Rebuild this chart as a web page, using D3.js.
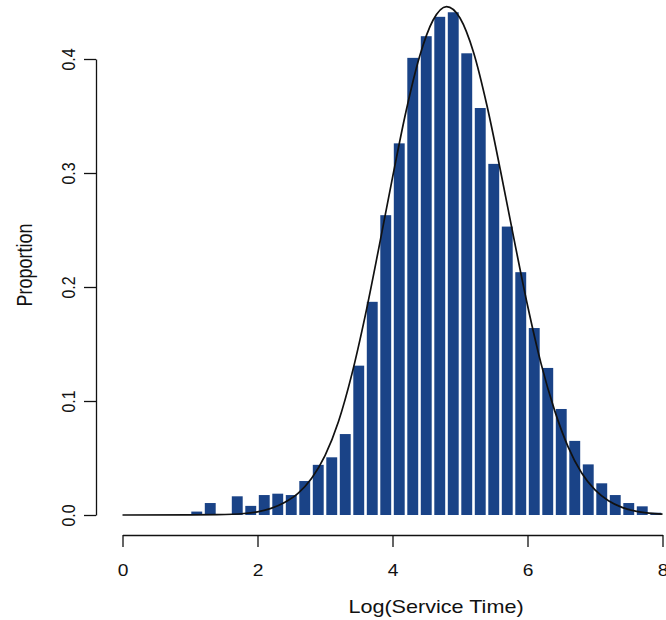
<!DOCTYPE html>
<html>
<head>
<meta charset="utf-8">
<script src="https://cdn.jsdelivr.net/npm/d3@7"></script>
<style>
  html, body { margin: 0; padding: 0; background: #fff; }
  svg { display: block; }
  text { font-family: "Liberation Sans", Arial, Helvetica, sans-serif; fill: #111; }
</style>
</head>
<body>
<svg id="chart" width="666" height="620"></svg>
<script>
// ---- data ----
const binEdges = [1.0,1.2,1.4,1.6,1.8,2.0,2.2,2.4,2.6,2.8,3.0,3.2,3.4,3.6,3.8,4.0,4.2,4.4,4.6,4.8,
                  5.0,5.2,5.4,5.6,5.8,6.0,6.2,6.4,6.6,6.8,7.0,7.2,7.4,7.6,7.8,8.0];
const proportions = [0.003,0.0105,0,0.0164,0.008,0.0175,0.0187,0.0175,0.0298,0.044,0.0506,0.071,
                     0.131,0.187,0.263,0.326,0.401,0.420,0.437,0.441,0.405,0.357,0.308,0.253,0.213,
                     0.164,0.129,0.093,0.065,0.0444,0.0278,0.0175,0.0105,0.0076,0.002];
const curveX = [0,1.0,1.4,1.8,2.0,2.2,2.4,2.6,2.8,3.0,3.2,3.4,3.6,3.8,4.0,4.2,4.4,4.6,4.8,
                5.0,5.2,5.4,5.6,5.8,6.0,6.2,6.4,6.6,6.8,7.0,7.2,7.4,7.6,7.8,8.0];
const curveY = [0,0.0001,0.0003,0.0013,0.0028,0.0058,0.011,0.019,0.032,0.052,0.082,0.124,0.176,
                0.235,0.296,0.354,0.402,0.434,0.446,0.436,0.406,0.359,0.302,0.242,0.184,0.133,
                0.092,0.060,0.037,0.022,0.0125,0.0067,0.0034,0.0017,0.0008];
const xTicks = [0, 2, 4, 6, 8];
const yTicks = [0.0, 0.1, 0.2, 0.3, 0.4];
const xTitle = "Log(Service Time)";
const yTitle = "Proportion";

// ---- drawing ----
const svg = d3.select("#chart");
const x = d3.scaleLinear().domain([0, 8]).range([122.5, 662.5]);
const y = d3.scaleLinear().domain([0, 0.4]).range([515, 59]);
const stretch = 1.2;

const bins = proportions.map((p, i) => ({ x0: binEdges[i], x1: binEdges[i + 1], p }));

svg.append("g").selectAll("rect").data(bins.filter(d => d.p > 0)).join("rect")
  .attr("x", d => x(d.x0) + 1.3)
  .attr("width", d => x(d.x1) - x(d.x0) - 2.6)
  .attr("y", d => y(d.p))
  .attr("height", d => y(0) - y(d.p))
  .attr("fill", "#1a4387");

const line = d3.line().x(d => x(d[0])).y(d => y(d[1])).curve(d3.curveMonotoneX);
svg.append("path")
  .datum(curveX.map((v, i) => [v, curveY[i]]))
  .attr("d", line)
  .attr("fill", "none")
  .attr("stroke", "#111")
  .attr("stroke-width", 1.7);

// x axis
const gx = svg.append("g").attr("transform", "translate(0,535)")
  .call(d3.axisBottom(x).tickValues(xTicks).tickSize(12).tickSizeOuter(0).tickFormat(d3.format("d")));
gx.select(".domain").attr("stroke", "#111").attr("stroke-width", 1.3);
gx.selectAll(".tick line").attr("stroke", "#111").attr("stroke-width", 1.3);
gx.selectAll(".tick text")
  .attr("y", 0).attr("dy", 0)
  .attr("transform", `translate(0,41) scale(${stretch},1)`)
  .attr("font-size", 16)
  .attr("font-family", "Liberation Sans, Arial, sans-serif")
  .attr("fill", "#111");

// y axis
const gy = svg.append("g").attr("transform", "translate(96,0)")
  .call(d3.axisLeft(y).tickValues(yTicks).tickSize(12).tickSizeOuter(0).tickFormat(d3.format(".1f")));
gy.select(".domain").attr("stroke", "#111").attr("stroke-width", 1.3);
gy.selectAll(".tick line").attr("stroke", "#111").attr("stroke-width", 1.3);
gy.selectAll(".tick text")
  .attr("x", 0).attr("dy", "0.36em")
  .attr("text-anchor", "middle")
  .attr("transform", `translate(-28,0) scale(${stretch},1) rotate(-90)`)
  .attr("font-size", 16)
  .attr("font-family", "Liberation Sans, Arial, sans-serif")
  .attr("fill", "#111");

// titles
svg.append("text")
  .attr("transform", `translate(436,613) scale(${stretch},1)`)
  .attr("text-anchor", "middle")
  .attr("font-size", 18)
  .text(xTitle);

svg.append("text")
  .attr("transform", `translate(32,265) scale(${stretch},1) rotate(-90)`)
  .attr("text-anchor", "middle")
  .attr("font-size", 18)
  .text(yTitle);
</script>
</body>
</html>
